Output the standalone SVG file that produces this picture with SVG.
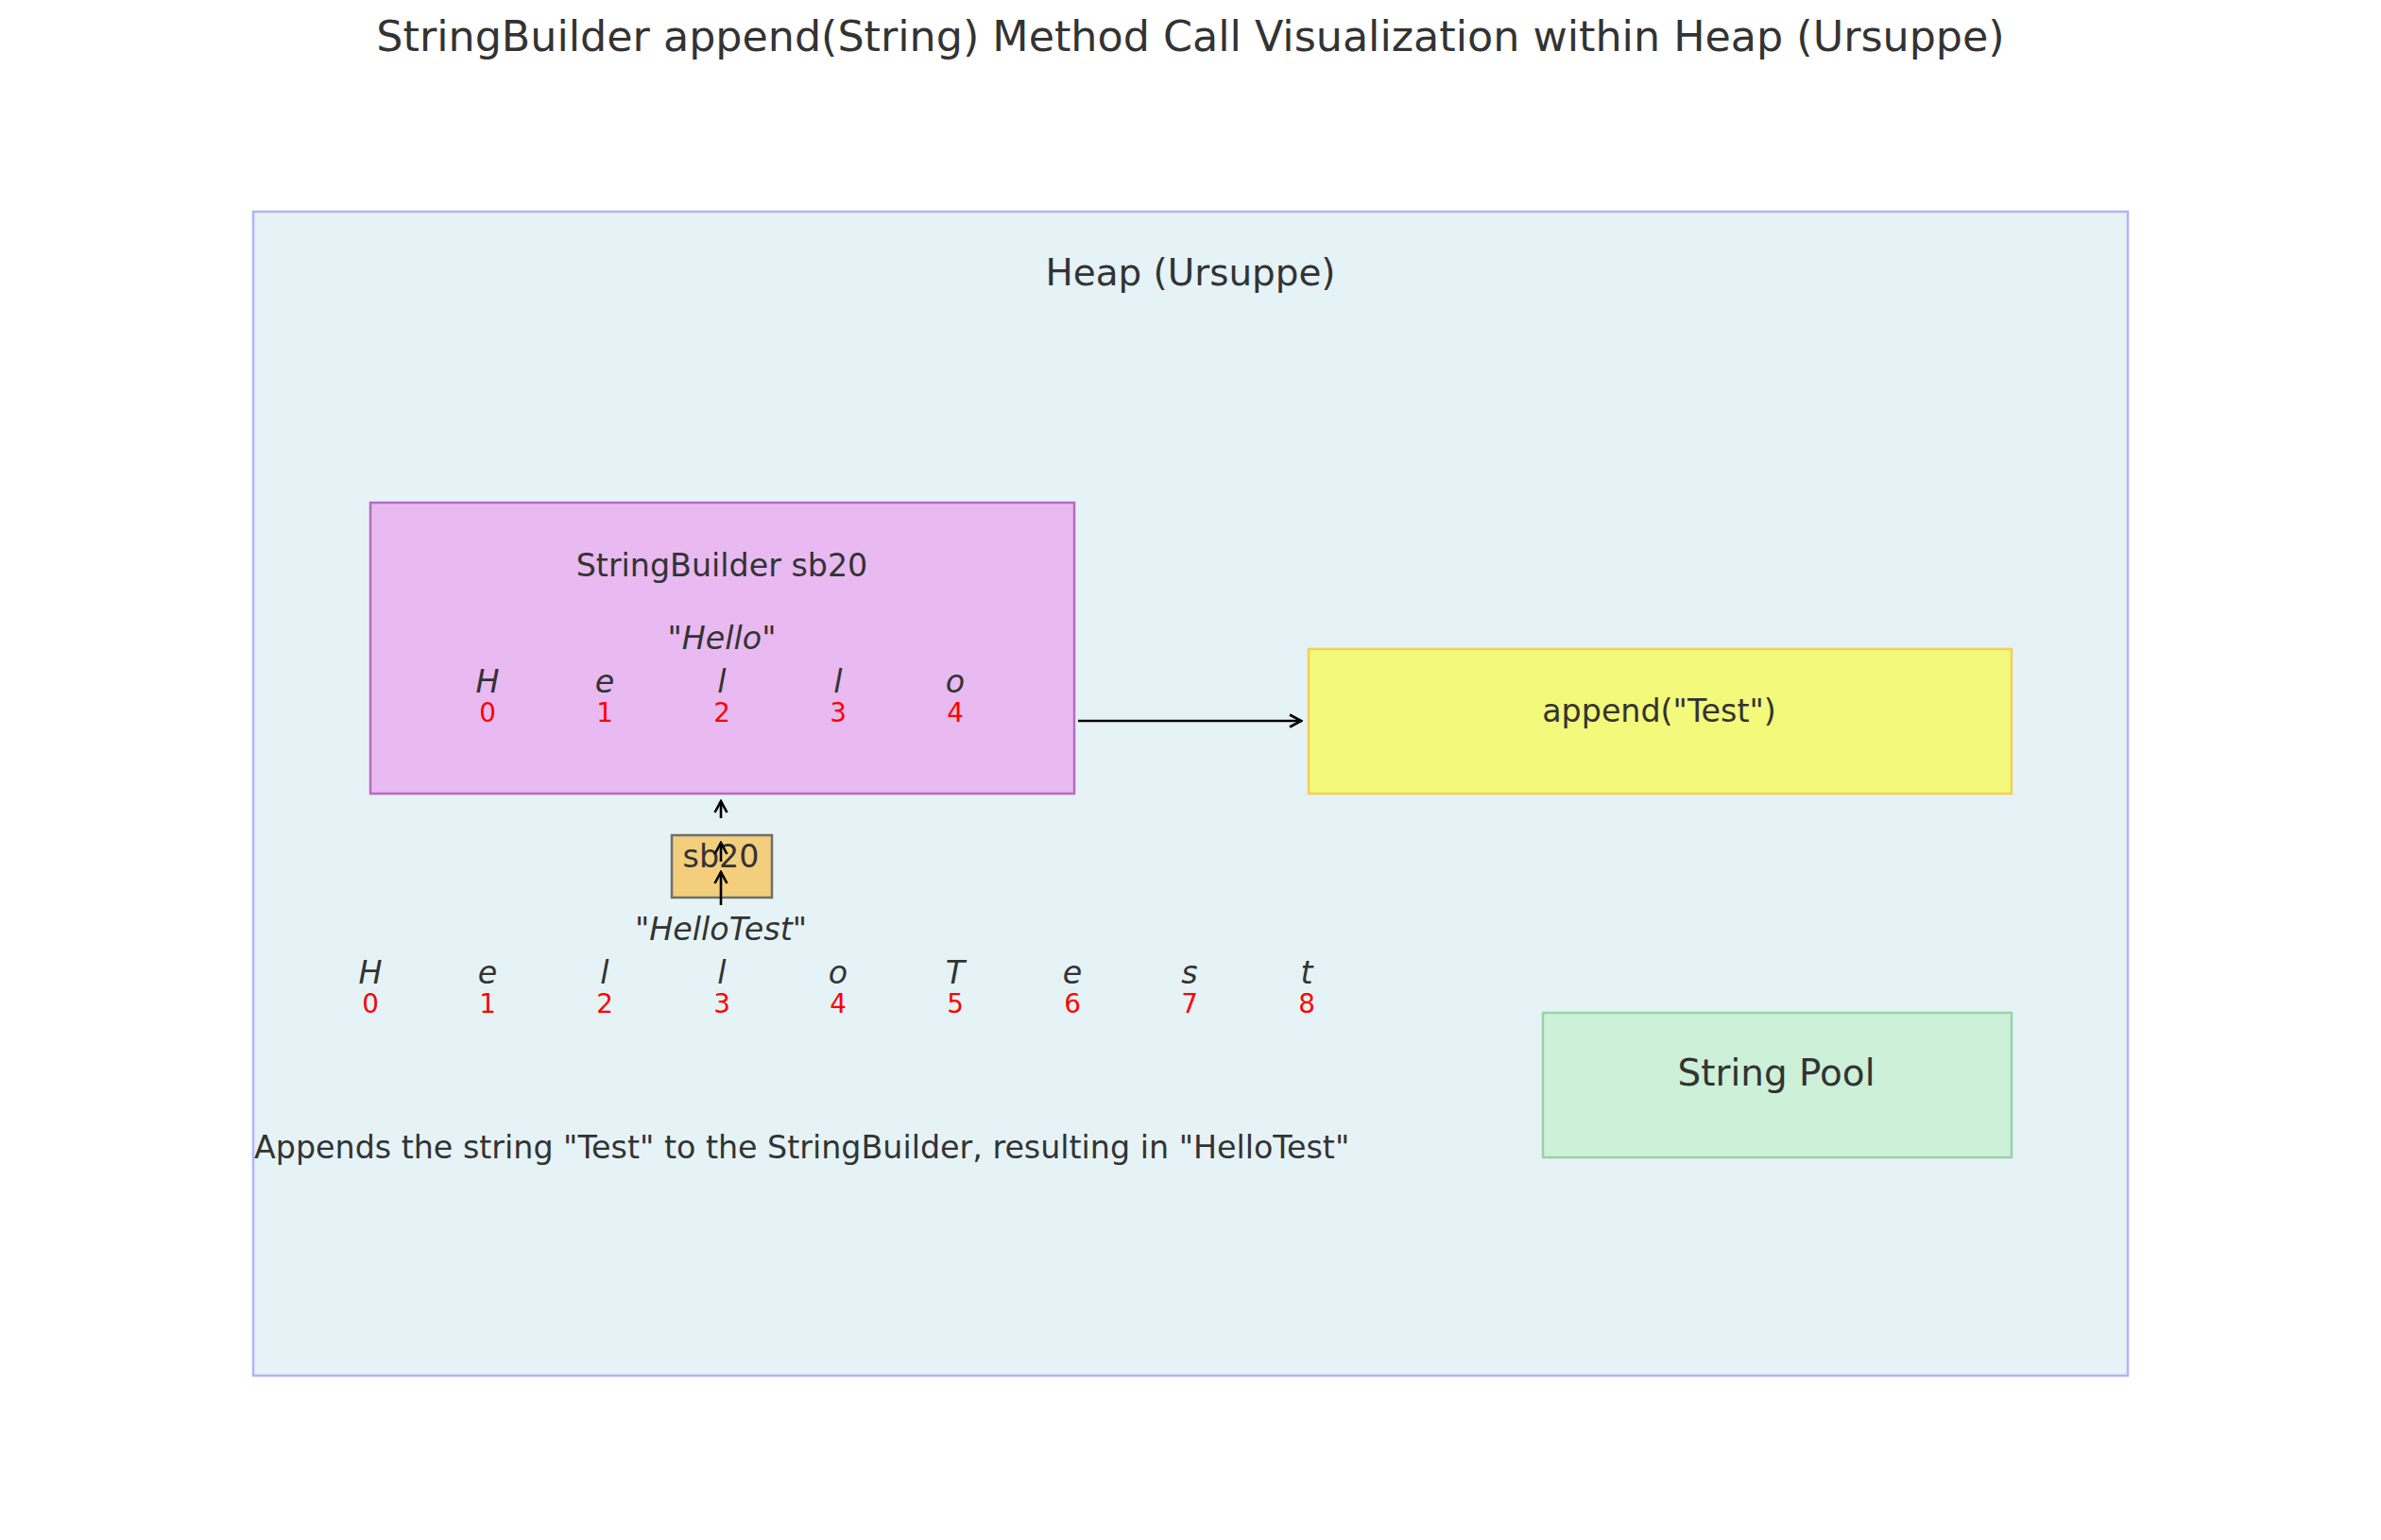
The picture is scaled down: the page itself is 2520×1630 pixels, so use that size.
<svg xmlns="http://www.w3.org/2000/svg" width="2520" height="1630" viewBox="0 0 2520 1630">
<style>
text { font-family: "DejaVu Sans", "Liberation Sans", sans-serif; fill: #333333; }
.t12 { font-size: 33.3px; }
.t14 { font-size: 38.9px; }
.t16 { font-size: 44.4px; }
.it { font-style: italic; }
.idx { font-size: 27.8px; fill: #ff0000; }
.conn { stroke: #000000; stroke-width: 2.6; fill: none; }
</style>
<defs>
<marker id="arr" markerWidth="16" markerHeight="16" refX="14" refY="8" orient="auto" markerUnits="userSpaceOnUse">
<path d="M2,1.5 L14,8 L2,14.5" fill="none" stroke="#000000" stroke-width="2.6"/>
</marker>
</defs>
<rect width="2520" height="1630" fill="#ffffff"/>
<text class="t16" x="1260" y="54" text-anchor="middle">StringBuilder append(String) Method Call Visualization within Heap (Ursuppe)</text>

<g id="heap">
<rect x="268" y="224" width="1984" height="1232" fill="#e5f3f7" stroke="#b0b3f8" stroke-width="2.5"/>
<text class="t14" x="1260" y="302" text-anchor="middle">Heap (Ursuppe)</text>
</g>

<g id="stringbuilder-sb20">
<rect x="392" y="532" width="745" height="308" fill="#e9b9f1" stroke="#b66cc0" stroke-width="2.5"/>
<text class="t12" x="764" y="610" text-anchor="middle">StringBuilder sb20</text>
<text class="t12" x="764" y="687" text-anchor="middle">"<tspan class="it">Hello</tspan>"</text>
<g class="t12 it" text-anchor="middle">
<text x="516" y="733">H</text>
<text x="640" y="733">e</text>
<text x="764" y="733">l</text>
<text x="887" y="733">l</text>
<text x="1011" y="733">o</text>
</g>
<g text-anchor="middle">
<text class="idx" x="516" y="764">0</text>
<text class="idx" x="640" y="764">1</text>
<text class="idx" x="764" y="764">2</text>
<text class="idx" x="887" y="764">3</text>
<text class="idx" x="1011" y="764">4</text>
</g>
</g>

<g id="append-call">
<rect x="1385" y="687" width="744" height="153" fill="#f3f97a" stroke="#f5cd5a" stroke-width="2.5"/>
<text class="t12" x="1756" y="764" text-anchor="middle">append("Test")</text>
</g>

<g id="string-pool">
<rect x="1633" y="1072" width="496" height="153" fill="#cdf0d8" stroke="#98d4a3" stroke-width="2.5"/>
<text class="t14" x="1880" y="1149" text-anchor="middle">String Pool</text>
</g>

<g id="ref-sb20">
<rect x="711" y="884" width="106" height="66" fill="#f3ce7c" stroke="#6f6f6f" stroke-width="2.5"/>
<text class="t12" x="763" y="918" text-anchor="middle">sb20</text>
</g>

<g id="result-hellotest">
<text class="t12" x="763" y="995" text-anchor="middle">"<tspan class="it">HelloTest</tspan>"</text>
<g class="t12 it" text-anchor="middle">
<text x="392" y="1041">H</text>
<text x="516" y="1041">e</text>
<text x="640" y="1041">l</text>
<text x="764" y="1041">l</text>
<text x="887" y="1041">o</text>
<text x="1011" y="1041">T</text>
<text x="1135" y="1041">e</text>
<text x="1259" y="1041">s</text>
<text x="1383" y="1041">t</text>
</g>
<g text-anchor="middle">
<text class="idx" x="392" y="1072">0</text>
<text class="idx" x="516" y="1072">1</text>
<text class="idx" x="640" y="1072">2</text>
<text class="idx" x="764" y="1072">3</text>
<text class="idx" x="887" y="1072">4</text>
<text class="idx" x="1011" y="1072">5</text>
<text class="idx" x="1135" y="1072">6</text>
<text class="idx" x="1259" y="1072">7</text>
<text class="idx" x="1383" y="1072">8</text>
</g>
</g>

<g id="description">
<text class="t12" x="269" y="1226">Appends the string "Test" to the StringBuilder, resulting in "HelloTest"</text>
</g>

<g id="connectors">
<line class="conn" x1="1141" y1="763" x2="1377" y2="763" marker-end="url(#arr)"/>
<line class="conn" x1="763" y1="866" x2="763" y2="848" marker-end="url(#arr)"/>
<line class="conn" x1="763" y1="912" x2="763" y2="892" marker-end="url(#arr)"/>
<line class="conn" x1="763" y1="958" x2="763" y2="923" marker-end="url(#arr)"/>
</g>
</svg>
